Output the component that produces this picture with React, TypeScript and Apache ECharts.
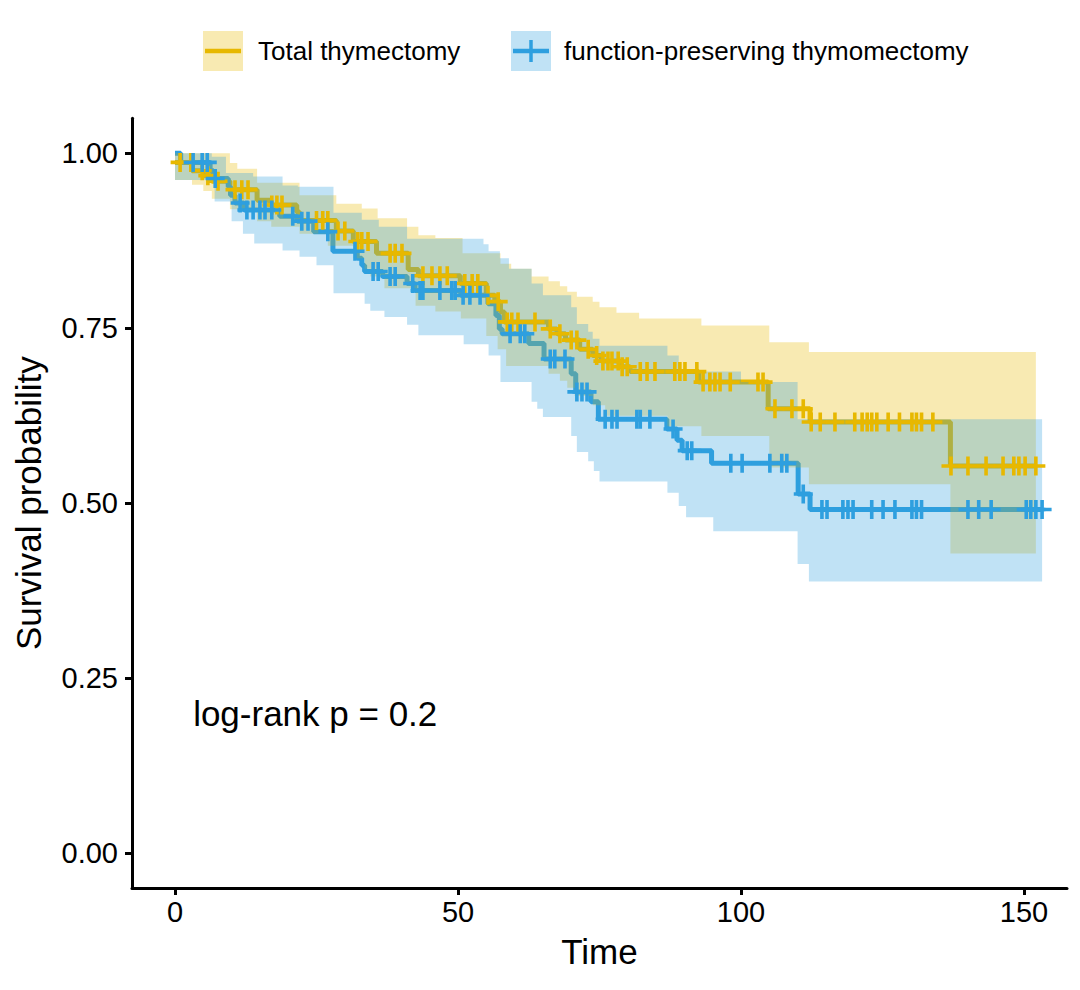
import React, { useEffect, useRef } from "react";
import * as echarts from "echarts";

// ---------- data ----------
const groupNames = ["Total thymectomy", "function-preserving thymomectomy"];
const groupColors = ["#E7B800", "#2E9FDF"];
const bandColors = ["rgba(231,184,0,0.3)", "rgba(46,159,223,0.3)"];

const xTicks = [0, 50, 100, 150];
const yTicks = [0, 0.25, 0.5, 0.75, 1];

const xTitle = "Time";
const yTitle = "Survival probability";
const pValueText = "log-rank p = 0.2";
const pValuePos = [3.2, 0.2];

// Total thymectomy: survival steps
const timeA = [0, 3.0, 5.0, 6.5, 9.7, 14.5, 16.8, 21.5, 22.0, 28.5, 31.5, 35.6, 41.2, 43.0, 50.4, 55.0, 56.5, 57.5, 58.2, 66.0, 67.5, 69.0, 71.5, 73.8, 75.3, 78.6, 80.4, 92.5, 104.8, 112.2, 137.0, 152.1];
const survA = [0.987, 0.975, 0.968, 0.96, 0.948, 0.933, 0.926, 0.916, 0.904, 0.889, 0.874, 0.857, 0.834, 0.825, 0.814, 0.797, 0.788, 0.773, 0.759, 0.749, 0.742, 0.733, 0.72, 0.711, 0.703, 0.695, 0.688, 0.673, 0.635, 0.616, 0.553, 0.553];
const censorA = [0.9, 2.8, 4.8, 5.8, 7.6, 10.6, 11.8, 12.9, 17.1, 18.0, 18.9, 25.0, 26.1, 27.0, 28.8, 30.0, 32.3, 33.0, 34.1, 38.0, 38.9, 40.1, 43.8, 45.4, 46.8, 48.1, 51.2, 52.5, 53.5, 55.3, 57.1, 58.7, 59.5, 60.6, 63.6, 66.3, 68.0, 70.0, 71.0, 73.0, 74.5, 75.6, 76.5, 77.2, 78.3, 79.0, 79.9, 82.2, 83.4, 84.8, 88.3, 89.2, 90.1, 92.2, 93.3, 94.5, 95.4, 96.3, 98.1, 103.0, 103.9, 106.0, 109.0, 111.0, 112.4, 114.0, 116.6, 120.1, 121.4, 122.3, 123.1, 124.0, 126.0, 128.0, 130.2, 131.0, 131.9, 133.9, 137.1, 140.1, 143.3, 146.3, 148.2, 149.1, 150.2, 152.1];
const upperTimeA = [0, 9.7, 11, 14.5, 22, 28.5, 33, 35.8, 41, 43, 46, 50.8, 57.5, 59.4, 63, 66, 68, 69.3, 71, 73.8, 75, 78, 82, 93, 105, 112, 152.1];
const upperA = [1.0, 0.986, 0.978, 0.958, 0.94, 0.928, 0.921, 0.907, 0.895, 0.883, 0.879, 0.857, 0.842, 0.835, 0.824, 0.817, 0.81, 0.802, 0.795, 0.788, 0.78, 0.772, 0.764, 0.754, 0.73, 0.716, 0.716];
const lowerTimeA = [0, 3, 5, 6.5, 9.7, 14.5, 17, 22, 27, 31.5, 33.5, 34.5, 37, 42.5, 46, 50.5, 55, 57, 58.5, 66, 68, 69.3, 70.6, 73.8, 76, 87, 93, 105, 112, 137, 152.1];
const lowerA = [0.962, 0.955, 0.946, 0.935, 0.92, 0.903, 0.895, 0.885, 0.868, 0.85, 0.835, 0.824, 0.807, 0.782, 0.774, 0.764, 0.739, 0.72, 0.696, 0.685, 0.675, 0.665, 0.653, 0.64, 0.625, 0.61, 0.596, 0.551, 0.527, 0.428, 0.428];

// function-preserving thymomectomy: survival steps
const timeB = [0, 1.0, 6.2, 6.8, 9.4, 9.8, 10.6, 12.2, 18.5, 21.6, 24.5, 27.9, 32.2, 33.0, 33.5, 36.7, 41.0, 42.4, 50.5, 55.3, 56.7, 57.3, 57.8, 62.5, 65.2, 70.0, 70.8, 73.5, 74.8, 86.9, 88.7, 89.6, 94.8, 110.1, 112.2, 153.2];
const survB = [1.0, 0.987, 0.975, 0.964, 0.952, 0.94, 0.929, 0.919, 0.91, 0.903, 0.888, 0.86, 0.85, 0.84, 0.831, 0.824, 0.814, 0.804, 0.797, 0.785, 0.768, 0.749, 0.742, 0.728, 0.706, 0.685, 0.659, 0.645, 0.62, 0.606, 0.59, 0.575, 0.557, 0.513, 0.491, 0.491];
const censorB = [3.2, 4.8, 5.7, 7.1, 11.5, 12.7, 13.8, 15.0, 15.9, 17.1, 20.8, 22.4, 23.5, 27.0, 31.8, 35.0, 35.9, 38.0, 38.9, 42.0, 43.3, 43.8, 46.8, 48.9, 49.5, 50.9, 52.1, 53.9, 59.2, 61.0, 61.8, 66.3, 67.1, 68.9, 71.0, 71.9, 72.8, 76.0, 77.2, 78.1, 81.6, 82.2, 83.9, 88.0, 90.5, 91.3, 98.2, 100.2, 105.1, 107.2, 108.1, 111.0, 114.3, 115.2, 118.0, 118.9, 119.8, 123.1, 125.1, 127.2, 130.2, 131.0, 131.9, 140.1, 142.0, 144.2, 150.4, 151.2, 152.1, 153.2];
const upperTimeB = [0, 6.5, 9, 13.8, 19, 21.7, 28, 33, 36, 41, 54.5, 55.4, 57.4, 59, 63, 65, 70, 71, 73, 73.8, 75, 87, 89, 100, 110, 153.2];
const upperB = [1.0, 0.995, 0.972, 0.967, 0.954, 0.952, 0.915, 0.905, 0.895, 0.878, 0.87, 0.86, 0.85, 0.835, 0.814, 0.797, 0.78, 0.756, 0.745, 0.735, 0.725, 0.711, 0.688, 0.673, 0.62, 0.62];
const lowerTimeB = [0, 7, 10, 12, 14, 19, 22, 25, 28, 33.5, 34.5, 37, 41, 43, 51, 55.4, 57.5, 63, 64, 65, 70, 71, 73, 74, 75, 87, 89, 90.3, 95.1, 110, 112, 153.2];
const lowerB = [0.962, 0.931, 0.903, 0.885, 0.871, 0.861, 0.852, 0.84, 0.8, 0.785, 0.775, 0.766, 0.755, 0.74, 0.727, 0.711, 0.673, 0.645, 0.635, 0.623, 0.596, 0.573, 0.56, 0.546, 0.531, 0.515, 0.496, 0.48, 0.46, 0.413, 0.388, 0.388];

// ---------- helpers ----------
const FONT = "'Liberation Sans', Arial, Helvetica, sans-serif";
const PLUS = "path://M0,8.1L20,8.1L20,11.9L0,11.9Z M8.1,0L11.9,0L11.9,20L8.1,20Z";

function stepValue(times: number[], vals: number[], t: number) {
  let v = vals[0];
  for (let i = 0; i < times.length; i++) if (times[i] <= t) v = vals[i];
  return v;
}

function lineSeries(name: string, times: number[], vals: number[], color: string) {
  return {
    type: "line",
    name,
    step: "end",
    data: times.map((t, i) => [t, vals[i]]),
    symbol: "none",
    showSymbol: false,
    lineStyle: { color, width: 5, opacity: 1 },
    z: 2,
    silent: true,
  };
}

function bandSeries(name: string, upT: number[], upV: number[], loT: number[], loV: number[], fill: string) {
  return {
    type: "custom",
    name,
    silent: true,
    z: 3,
    data: upT.map((t, i) => [t, upV[i]]).concat(loT.map((t, i) => [t, loV[i]])),
    encode: { x: 0, y: 1 },
    renderItem: (params: any, api: any) => {
      if (params.dataIndex !== 0) return null;
      const pts: number[][] = [];
      for (let i = 0; i < upT.length - 1; i++) {
        pts.push(api.coord([upT[i], upV[i]]));
        pts.push(api.coord([upT[i + 1], upV[i]]));
      }
      for (let i = loT.length - 2; i >= 0; i--) {
        pts.push(api.coord([loT[i + 1], loV[i]]));
        pts.push(api.coord([loT[i], loV[i]]));
      }
      return { type: "polygon", shape: { points: pts }, style: { fill } };
    },
  };
}

function censorSeries(name: string, cens: number[], times: number[], vals: number[], color: string) {
  return {
    type: "scatter",
    name,
    data: cens.map((t) => [t, stepValue(times, vals, t)]),
    symbol: PLUS,
    symbolSize: 19,
    itemStyle: { color, opacity: 1 },
    z: 4,
    silent: true,
  };
}

function legendGraphics() {
  const items: any[] = [];
  const boxX = [203, 511];
  const textX = [258, 564];
  groupNames.forEach((name, i) => {
    items.push({ type: "rect", shape: { x: boxX[i], y: 31, width: 40, height: 40 }, style: { fill: bandColors[i] } });
    items.push({
      type: "line",
      shape: { x1: boxX[i] + 2, y1: 51, x2: boxX[i] + 38, y2: 51 },
      style: { stroke: groupColors[i], lineWidth: 4.5 },
    });
    if (i === 1) {
      items.push({
        type: "line",
        shape: { x1: boxX[i] + 20, y1: 40, x2: boxX[i] + 20, y2: 62 },
        style: { stroke: groupColors[i], lineWidth: 3.5 },
      });
    }
    items.push({
      type: "text",
      x: textX[i],
      y: 51,
      style: { text: name, fontSize: 26, fill: "#000", fontFamily: FONT, verticalAlign: "middle", align: "left" },
    });
  });
  return items;
}

export default function App() {
  const ref = useRef<HTMLDivElement>(null);
  useEffect(() => {
    document.body.style.margin = "0";
    if (!ref.current) return;
    const chart = echarts.init(ref.current, undefined, { renderer: "svg" });
    chart.setOption({
      animation: false,
      backgroundColor: "#fff",
      grid: { left: 132, top: 118.3, width: 935, height: 769.7, containLabel: false },
      xAxis: {
        type: "value",
        min: -7.6,
        max: 157.6,
        splitLine: { show: false },
        axisLine: { show: true, onZero: false, lineStyle: { color: "#000", width: 3 } },
        axisTick: { show: true, length: 7, customValues: xTicks, lineStyle: { color: "#000", width: 3 } },
        axisLabel: { customValues: xTicks, fontSize: 29, color: "#000", fontFamily: FONT, margin: 9 },
        name: xTitle,
        nameLocation: "middle",
        nameGap: 46,
        nameTextStyle: { fontSize: 35, color: "#000", fontFamily: FONT },
      },
      yAxis: {
        type: "value",
        min: -0.05,
        max: 1.05,
        splitLine: { show: false },
        axisLine: { show: true, onZero: false, lineStyle: { color: "#000", width: 3 } },
        axisTick: { show: true, length: 7, customValues: yTicks, lineStyle: { color: "#000", width: 3 } },
        axisLabel: {
          customValues: yTicks,
          fontSize: 29,
          color: "#000",
          fontFamily: FONT,
          margin: 14,
          formatter: (v: number) => v.toFixed(2),
        },
        name: yTitle,
        nameLocation: "middle",
        nameRotate: 90,
        nameGap: 86,
        nameTextStyle: { fontSize: 35, color: "#000", fontFamily: FONT },
      },
      graphic: legendGraphics(),
      series: [
        lineSeries(groupNames[0], timeA, survA, groupColors[0]),
        lineSeries(groupNames[1], timeB, survB, groupColors[1]),
        bandSeries(groupNames[0] + " CI", upperTimeA, upperA, lowerTimeA, lowerA, bandColors[0]),
        bandSeries(groupNames[1] + " CI", upperTimeB, upperB, lowerTimeB, lowerB, bandColors[1]),
        censorSeries(groupNames[0] + " censor", censorA, timeA, survA, groupColors[0]),
        censorSeries(groupNames[1] + " censor", censorB, timeB, survB, groupColors[1]),
        {
          type: "scatter",
          name: "p-value",
          data: [pValuePos],
          symbolSize: 0,
          silent: true,
          z: 5,
          itemStyle: { opacity: 1 },
          label: {
            show: true,
            position: "right",
            distance: 0,
            formatter: pValueText,
            fontSize: 35,
            color: "#000",
            opacity: 1,
            fontFamily: FONT,
          },
        },
      ],
    });
    return () => chart.dispose();
  }, []);
  return <div ref={ref} style={{ width: 1080, height: 990 }} />;
}
